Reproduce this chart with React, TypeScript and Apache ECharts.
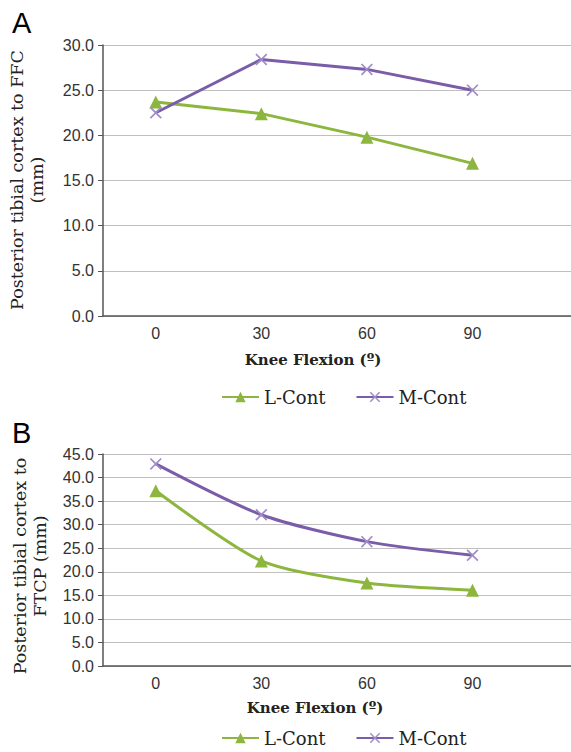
import React, { useEffect, useRef } from "react";
import * as echarts from "echarts";

const categories = [0, 30, 60, 90];
const seriesNames = ["L-Cont", "M-Cont"];
const lContA = [23.7, 22.4, 19.8, 16.9];
const mContA = [22.5, 28.4, 27.3, 25.0];
const lContB = [37.2, 22.3, 17.6, 16.1];
const mContB = [42.9, 32.1, 26.4, 23.5];
const xTitle = "Knee Flexion (º)";
const yTitleA = "Posterior tibial cortex to FFC\n(mm)";
const yTitleB = "Posterior tibial cortex to\nFTCP (mm)";

const GREEN = "#8cb63e";
const PURPLE = "#7b5ca8";
const CROSS = "path://M0,1L1,0L5,4L9,0L10,1L6,5L10,9L9,10L5,6L1,10L0,9L4,5Z";
const SERIF = "'DejaVu Serif', 'Liberation Serif', serif";
const SANS = "'Liberation Sans', Arial, sans-serif";

const pairs = (vals: number[]) => categories.map((c, i) => [c, vals[i]]);

export default function App() {
  const ref = useRef<HTMLDivElement>(null);
  useEffect(() => {
    if (!ref.current) return;
    const chart = echarts.init(ref.current, undefined, { renderer: "svg" });
    const xAxisBase = (gridIndex: number) => ({
      type: "value" as const,
      gridIndex,
      min: -15,
      max: 118,
      interval: 15,
      splitLine: { show: false },
      axisTick: { show: false },
      axisLine: { onZero: false, lineStyle: { color: "#555", width: 1.5 } },
      axisLabel: {
        margin: 9,
        fontFamily: SANS,
        fontSize: 16,
        color: "#333",
        showMaxLabel: false,
        formatter: (v: number) => (categories.includes(v) ? String(v) : ""),
      },
    });
    const yAxisBase = (gridIndex: number, max: number) => ({
      type: "value" as const,
      gridIndex,
      min: 0,
      max,
      interval: 5,
      axisLine: { show: true, onZero: false, lineStyle: { color: "#555", width: 1.5 } },
      axisTick: { show: true, length: 5, lineStyle: { color: "#555" } },
      splitLine: { lineStyle: { color: "#c0c0c0", width: 1.2 } },
      axisLabel: {
        margin: 9,
        fontFamily: SANS,
        fontSize: 16,
        color: "#333",
        formatter: (v: number) => v.toFixed(1),
      },
    });
    const lineSeries = (name: string, vals: number[], idx: number) => {
      const isL = name === seriesNames[0];
      return {
        name,
        type: "line" as const,
        xAxisIndex: idx,
        yAxisIndex: idx,
        data: pairs(vals),
        smooth: idx === 1 ? 0.25 : false,
        symbol: isL ? "triangle" : CROSS,
        symbolSize: isL ? 13 : 12,
        lineStyle: { color: isL ? GREEN : PURPLE, width: 3 },
        itemStyle: { color: isL ? GREEN : "#a08cc8" },
      };
    };
    const legendBase = (top: number) => ({
      data: seriesNames,
      top,
      left: 216,
      itemWidth: 37,
      itemHeight: 13,
      itemGap: 30,
      textStyle: { fontFamily: SERIF, fontSize: 18, color: "#222" },
    });
    chart.setOption({
      animation: false,
      backgroundColor: "#fff",
      grid: [
        { left: 103, top: 45, right: 0, height: 271 },
        { left: 103, top: 454, right: 0, height: 212 },
      ],
      xAxis: [xAxisBase(0), xAxisBase(1)],
      yAxis: [yAxisBase(0, 30), yAxisBase(1, 45)],
      legend: [legendBase(383), legendBase(724)],
      series: [
        lineSeries(seriesNames[0], lContA, 0),
        lineSeries(seriesNames[1], mContA, 0),
        lineSeries(seriesNames[0], lContB, 1),
        lineSeries(seriesNames[1], mContB, 1),
      ],
      graphic: [
        { type: "text", left: 12, top: 8, style: { text: "A", fontFamily: SANS, fontSize: 29, fill: "#000" } },
        { type: "text", left: 12, top: 418, style: { text: "B", fontFamily: SANS, fontSize: 29, fill: "#000" } },
        {
          type: "text", x: 27, y: 180, rotation: Math.PI / 2,
          style: { text: yTitleA, fontFamily: SERIF, fontSize: 17.5, lineHeight: 20, fill: "#222", align: "center", verticalAlign: "middle" },
        },
        {
          type: "text", x: 30, y: 566, rotation: Math.PI / 2,
          style: { text: yTitleB, fontFamily: SERIF, fontSize: 17.5, lineHeight: 20, fill: "#222", align: "center", verticalAlign: "middle" },
        },
        {
          type: "text", x: 313, y: 360,
          style: { text: xTitle, fontFamily: SERIF, fontSize: 15, fontWeight: "bold", fill: "#222", align: "center", verticalAlign: "middle" },
        },
        {
          type: "text", x: 315, y: 708,
          style: { text: xTitle, fontFamily: SERIF, fontSize: 15, fontWeight: "bold", fill: "#222", align: "center", verticalAlign: "middle" },
        },
      ],
    });
    return () => chart.dispose();
  }, []);
  return <div ref={ref} style={{ position: "fixed", left: 0, top: 0, width: 571, height: 752 }} />;
}
